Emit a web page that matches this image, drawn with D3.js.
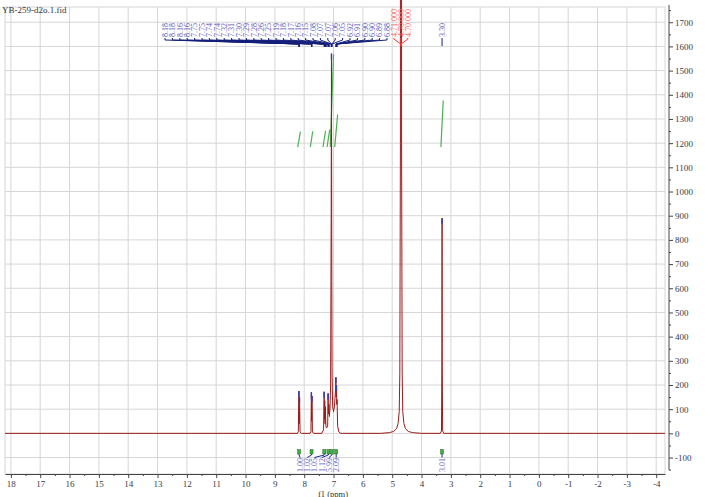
<!DOCTYPE html>
<html>
<head>
<meta charset="utf-8">
<script src="https://cdnjs.cloudflare.com/ajax/libs/d3/7.8.5/d3.min.js"></script>
<style>
body { margin: 0; background: #fff; }
svg { display: block; font-family: "Liberation Serif", "DejaVu Serif", serif; }
</style>
</head>
<body>
<div id="chart"></div>
<script>
// Data: spectrum points (ppm, intensity)
const specPpm = [18.2, 8.23, 8.20, 8.18, 8.17, 8.16, 8.14, 8.10,
    7.80, 7.77, 7.755, 7.745, 7.735, 7.72, 7.68,
    7.40, 7.34, 7.32, 7.31, 7.30, 7.29, 7.28, 7.26, 7.24, 7.20, 7.185, 7.175, 7.16, 7.14, 7.12, 7.10, 7.08, 7.07, 7.06, 7.05, 7.03, 7.00, 6.97, 6.93, 6.92, 6.91, 6.90, 6.89, 6.88, 6.86, 6.82, 6.75,
    5.40, 5.10, 4.95, 4.85, 4.80, 4.76, 4.74, 4.72, 4.71, 4.70, 4.69, 4.68, 4.66, 4.64, 4.60, 4.55, 4.45, 4.30, 4.00,
    3.36, 3.32, 3.305, 3.30, 3.295, 3.28, 3.24, -4.3];
const specInt = [0, 0, 8, 175, 40, 150, 6, 0,
    0, 8, 170, 50, 155, 6, 0,
    0, 15, 172, 60, 135, 40, 110, 30, 22, 30, 165, 80, 120, 70, 105, 200, 900, 1570, 700, 250, 110, 90, 110, 180, 232, 150, 200, 120, 140, 30, 6, 0,
    0, 3, 8, 20, 40, 90, 250, 1200, 9000, 9000, 9000, 1200, 250, 90, 40, 20, 8, 3, 0,
    0, 10, 300, 890, 300, 10, 0, 0];

// Peak labels (blue group, red water group, single)
const peakPpm = [8.18, 8.18, 8.16, 8.16, 7.75, 7.75, 7.74, 7.74, 7.32, 7.31, 7.30, 7.29, 7.28, 7.26, 7.25,
    7.19, 7.18, 7.17, 7.16, 7.15, 7.08, 7.07, 7.07, 7.06, 7.05, 6.92, 6.91, 6.90, 6.90, 6.89, 6.88];
const waterPpm = [4.71, 4.70, 4.70];
const waterText = ["4.71 000", "4.70 000", "4.70 000"];
const singlePpm = [3.30];

// Integrals
const intFrom = [8.22, 7.79, 7.36, 7.22, 7.11, 6.96, 3.34];
const intTo = [8.13, 7.71, 7.27, 7.13, 7.00, 6.86, 3.26];
const intVal = [1.00, 1.02, 1.05, 1.12, 5.99, 2.09, 3.01];

// Axis ticks
const xTicks = d3.range(18, -5, -1);
const xMinor = d3.range(17.5, -4.5, -1);
const yTicks = d3.range(-100, 1701, 100);
const yMinor = d3.range(-150, 1751, 100);

const width = 705, height = 497;
const x = d3.scaleLinear().domain([18.2, -4.3]).range([5, 665]);
const y = d3.scaleLinear().domain([-168, 1763]).range([474, 7]);

const svg = d3.select("#chart").append("svg")
    .attr("width", width)
    .attr("height", height);

// grid
svg.append("g").selectAll("line").data(xTicks).enter().append("line")
    .attr("x1", d => x(d)).attr("x2", d => x(d))
    .attr("y1", 7).attr("y2", 474)
    .attr("stroke", "#d6d6d6");
svg.append("g").selectAll("line").data(yTicks).enter().append("line")
    .attr("x1", 5).attr("x2", 665)
    .attr("y1", d => y(d)).attr("y2", d => y(d))
    .attr("stroke", "#d6d6d6");
svg.append("rect")
    .attr("x", 5).attr("y", 7).attr("width", 660).attr("height", 467)
    .attr("fill", "none").attr("stroke", "#d6d6d6");

// title
svg.append("text")
    .attr("x", 2).attr("y", 13)
    .attr("font-size", "9px")
    .attr("fill", "#333")
    .text("YB-259-d2o.1.fid");

// x axis
svg.append("g")
    .attr("transform", "translate(0,474)")
    .call(d3.axisBottom(x).tickValues(xTicks).tickSize(4).tickSizeOuter(0).tickPadding(3)
        .tickFormat(d => d < 0 ? "-" + Math.abs(d) : d));
svg.append("g")
    .attr("transform", "translate(0,474)")
    .call(d3.axisBottom(x).tickValues(xMinor).tickSize(2).tickFormat(""))
    .select(".domain").remove();

// y axis
const yAxis = svg.append("g")
    .attr("transform", "translate(669,0)")
    .call(d3.axisRight(y).tickValues(yTicks).tickSize(4).tickPadding(2)
        .tickFormat(d => d < 0 ? "-" + Math.abs(d) : d));
yAxis.select(".domain").remove();
svg.append("g")
    .attr("transform", "translate(669,0)")
    .call(d3.axisRight(y).tickValues(yMinor).tickSize(2).tickFormat(""))
    .select(".domain").remove();
svg.append("line")
    .attr("x1", 669).attr("x2", 669).attr("y1", 5).attr("y2", 470)
    .attr("stroke", "#444");

svg.selectAll(".tick text").attr("font-size", "9px").attr("fill", "#3a3a4a")
    .attr("font-family", "Liberation Serif, DejaVu Serif, serif");
svg.selectAll(".tick line, .domain").attr("stroke", "#444");

svg.append("text")
    .attr("x", 333).attr("y", 497)
    .attr("text-anchor", "middle")
    .attr("font-size", "8.5px")
    .attr("fill", "#333")
    .text("f1 (ppm)");

// integral curves
const intBase = 1184, intScale = 64;
svg.append("g").selectAll("line").data(intVal).enter().append("line")
    .attr("x1", (d, i) => x(intFrom[i])).attr("y1", y(intBase))
    .attr("x2", (d, i) => x(intTo[i])).attr("y2", d => y(intBase + d * intScale))
    .attr("stroke", "#4caf50").attr("stroke-width", 1.2);

// spectrum
const spec = specPpm.map((p, i) => [p, specInt[i]]);
svg.append("path")
    .datum(spec)
    .attr("fill", "none")
    .attr("stroke", "#9b1b1b")
    .attr("stroke-width", 1)
    .attr("d", d3.line().x(d => x(d[0])).y(d => y(d[1])));

// blue tips at picked peak tops
const tips = spec.filter((d, i) => i > 0 && i < spec.length - 1 &&
    d[1] > spec[i - 1][1] && d[1] > spec[i + 1][1] && d[1] >= 150 && d[1] < 5000);
svg.append("g").selectAll("line").data(tips).enter().append("line")
    .attr("x1", d => x(d[0])).attr("x2", d => x(d[0]))
    .attr("y1", d => y(d[1])).attr("y2", d => y(d[1]) + 6)
    .attr("stroke", "#3040b0").attr("stroke-width", 1.4);

// top peak labels (blue fan)
const labG = svg.append("g");
peakPpm.forEach((p, i) => {
    const lx = 165 + i * 7.4;
    labG.append("path")
        .attr("d", `M${lx},38 L${lx},40 L${x(p)},44 L${x(p)},47`)
        .attr("fill", "none").attr("stroke", "#16207a").attr("stroke-width", 1);
    labG.append("text")
        .attr("transform", `translate(${lx},37) rotate(-90)`)
        .attr("dy", "0.35em")
        .attr("font-size", "8px")
        .attr("fill", "#5a5ab8")
        .text(p.toFixed(2));
});

// water labels (red)
waterPpm.forEach((p, i) => {
    const lx = x(4.705) + (i - 1) * 7;
    labG.append("path")
        .attr("d", `M${lx},38 L${lx},39 L${x(p)},44 L${x(p)},46`)
        .attr("fill", "none").attr("stroke", "#ff3535").attr("stroke-width", 1);
    labG.append("text")
        .attr("transform", `translate(${lx},37) rotate(-90)`)
        .attr("dy", "0.35em")
        .attr("font-size", "8px")
        .attr("fill", "#ff5a5a")
        .text(waterText[i]);
});

// single label
singlePpm.forEach(p => {
    const lx = x(p);
    labG.append("path")
        .attr("d", `M${lx},38 L${lx},46`)
        .attr("fill", "none").attr("stroke", "#16207a").attr("stroke-width", 1);
    labG.append("text")
        .attr("transform", `translate(${lx},37) rotate(-90)`)
        .attr("dy", "0.35em")
        .attr("font-size", "8px")
        .attr("fill", "#5a5ab8")
        .text(p.toFixed(2));
});

// integral markers and labels at bottom
const mids = intFrom.map((f, i) => x((f + intTo[i]) / 2));
const groups = [];
mids.forEach((m, i) => {
    if (i > 0 && m - mids[i - 1] < 20) groups[groups.length - 1].push(i);
    else groups.push([i]);
});
const labX = [];
groups.forEach(g => {
    const a = mids[g[0]], b = mids[g[g.length - 1]];
    g.forEach((idx, k) => {
        labX[idx] = g.length > 1 ? a + 1 + (b - a - 1) * k / (g.length - 1) : a;
    });
});
const intG = svg.append("g");
intVal.forEach((v, i) => {
    intG.append("path")
        .attr("d", `M${mids[i]},454 L${mids[i]},455 L${labX[i]},457.5`)
        .attr("fill", "none").attr("stroke", "#1a2a8a").attr("stroke-width", 1);
    intG.append("rect")
        .attr("x", mids[i] - 1.5).attr("y", 449.5)
        .attr("width", 3).attr("height", 4.5)
        .attr("fill", "#3cb043").attr("stroke", "#1f6a2a").attr("stroke-width", 0.5);
    intG.append("text")
        .attr("transform", `translate(${labX[i]},458) rotate(-90)`)
        .attr("dy", "0.35em")
        .attr("text-anchor", "end")
        .attr("font-size", "8px")
        .attr("fill", "#6464c4")
        .text(v.toFixed(2));
});
</script>
</body>
</html>
